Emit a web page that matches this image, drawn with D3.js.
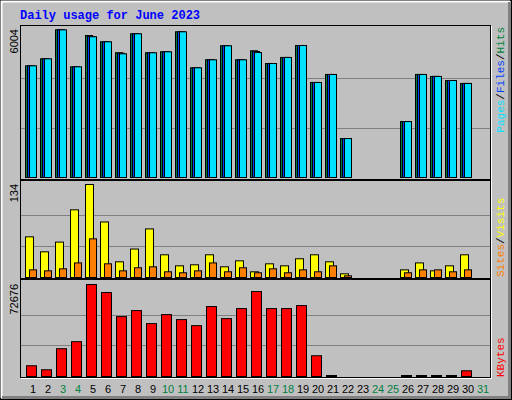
<!DOCTYPE html><html><head><meta charset="utf-8">
<script src="https://cdn.jsdelivr.net/npm/d3@7"></script>
<style>body{margin:0;background:#fff}</style></head><body><svg id="c" width="512" height="400"></svg>
<script>
const days = d3.range(1,32);
const weekend = [3,4,10,11,17,18,24,25,31];
const hits  = [4530,4815,5990,4490,5760,5505,5060,5830,5060,5100,5910,4450,4775,5343,4775,5140,4625,4870,5355,3855,4180,1580,0,0,0,2270,4180,4100,3935,3815,0];
const files = [4530,4815,5990,4490,5720,5505,5040,5830,5060,5100,5910,4450,4775,5343,4775,5110,4625,4870,5355,3855,4180,1580,0,0,0,2270,4180,4100,3935,3815,0];
const pages = [4530,4815,5990,4490,5710,5505,5018,5830,5060,5100,5910,4450,4775,5343,4775,5070,4625,4870,5355,3855,4180,1580,0,0,0,2270,4180,4100,3935,3815,0];
const visits= [58.6,37,51,97.5,134,80,22.6,41,70,32.7,16.8,18.3,32.7,15.4,24,8.2,19.7,16.8,27,32.7,22.6,5.3,0,0,0,11,21,9.6,16.8,32.7,0];
const sites = [11,9.6,12.5,21,55.7,19.7,9.6,14,15.4,8.2,6.8,9.6,21,8.2,14,6.8,12.5,6.8,11,8.2,16.8,2.4,0,0,0,6.8,11,11,8.2,11,0];
const kbytes= [8480,5310,21950,27500,72676,66340,47300,52070,41770,48900,44940,40180,55240,45730,53650,67130,53650,53650,56030,16400,250,0,0,0,0,250,250,250,250,4500,0];
const maxLabels = ["6004","134","72676"];

const svg = d3.select("#c");
svg.append("rect").attr("width",512).attr("height",400).attr("fill","#C0C0C0");
svg.append("rect").attr("x",0.5).attr("y",0.5).attr("width",511).attr("height",399).attr("fill","none").attr("stroke","#000");
svg.append("path").attr("d","M1.5,398V1.5H510").attr("stroke","#fff").attr("stroke-width",2).attr("fill","none");
svg.append("path").attr("d","M2,397.5H509.5V2").attr("stroke","#808080").attr("stroke-width",3).attr("fill","none");

svg.append("text").attr("x",20).attr("y",19).text("Daily usage for June 2023")
  .attr("font-family","Liberation Mono").attr("font-weight","bold").attr("font-size",12).attr("fill","#0000FF");

const x = d3.scaleBand().domain(days).range([20,485]).paddingInner(0);
// slot 15px starting at 25
const xs = d => 25 + (d-1)*15;

const panels = [
 {top:25,bot:180,base:177,maxY:29,max:6004},
 {top:180,bot:279,base:277,maxY:184,max:134},
 {top:279,bot:378,base:376,maxY:284,max:72676}
];
panels.forEach((p,i)=>{
  svg.append("rect").attr("x",20.5).attr("y",p.top+0.5).attr("width",470).attr("height",p.bot-p.top-1).attr("fill","#C0C0C0").attr("stroke","#000");
  svg.append("path").attr("d",`M21,${p.bot+0.5}H491.5V${p.top+1}`).attr("stroke","#fff").attr("fill","none");
  p.y = d3.scaleLinear().domain([0,p.max]).range([p.base,p.maxY]);
  [1,2].forEach(k=>{
    const yy = Math.round(p.y(p.max*k/3))+0.5;
    svg.append("line").attr("x1",21).attr("x2",490).attr("y1",yy).attr("y2",yy).attr("stroke","#808080");
  });
  svg.append("text").attr("transform",`translate(18,${p.maxY}) rotate(-90)`).attr("text-anchor","end")
    .attr("font-family","Liberation Sans").attr("font-size",11).text(maxLabels[i]);
});

function bars(data, p, off, w, color){
  svg.append("g").selectAll("rect").data(days.filter((d,i)=>data[i]>0)).join("rect")
    .attr("x",d=>xs(d)+off+0.5).attr("width",w)
    .attr("y",d=>Math.min(p.y(data[d-1]), p.base-1)+0.5)
    .attr("height",d=>Math.max(1, p.base-p.y(data[d-1])))
    .attr("fill",color).attr("stroke","#000");
}
bars(hits,panels[0],0,7,"#008040");
bars(files,panels[0],2,7,"#0040FF");
bars(pages,panels[0],4,7,"#00E0FF");
bars(visits,panels[1],0,8,"#FFFF00");
bars(sites,panels[1],4,7,"#FF8000");
bars(kbytes,panels[2],1,10,"#FF0000");

svg.append("g").selectAll("text").data(days).join("text")
  .attr("x",d=>xs(d)+8).attr("y",393).attr("text-anchor","middle")
  .attr("font-family","Liberation Sans").attr("font-size",11)
  .attr("fill",d=>weekend.includes(d)?"#008040":"#000").text(d=>d);

function rlabel(y, parts, anchor){
  const t = svg.append("text").attr("transform",`translate(504,${y}) rotate(-90)`).attr("text-anchor",anchor)
    .attr("font-family","Liberation Mono").attr("font-size",11);
  parts.forEach(([s,c])=>t.append("tspan").attr("fill",c).text(s));
}
rlabel(27,[["Pages","#00E0FF"],["/","#000"],["Files","#0040FF"],["/","#000"],["Hits","#008040"]],"end");
rlabel(277,[["Sites","#FF8000"],["/","#000"],["Visits","#FFFF00"]],"start");
rlabel(377,[["KBytes","#FF0000"]],"start");
</script></body></html>
